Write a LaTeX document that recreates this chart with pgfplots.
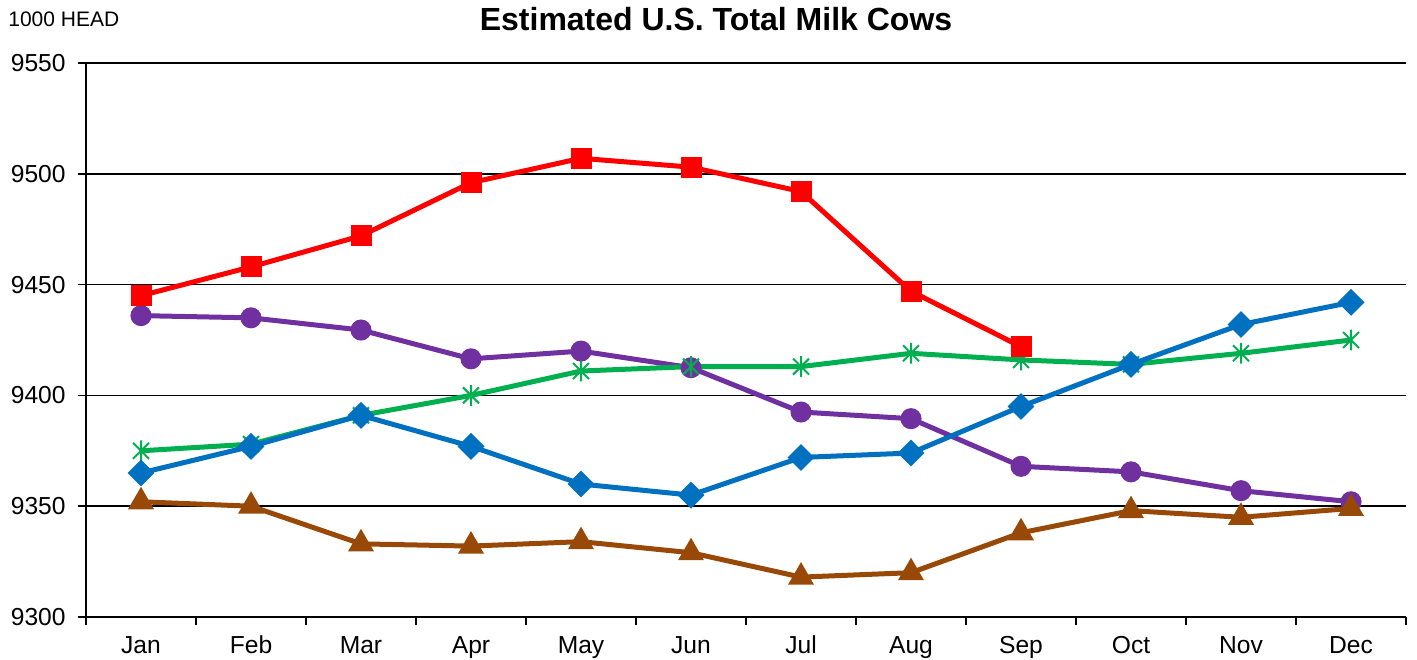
\documentclass[border=0pt]{standalone}
\usepackage{fontspec}
\setmainfont{Liberation Sans}
\usepackage{pgfplots}
\pgfplotsset{compat=1.18}

\definecolor{cRed}{HTML}{FF0000}
\definecolor{cPurple}{HTML}{7030A0}
\definecolor{cGreen}{HTML}{00B050}
\definecolor{cBlue}{HTML}{0070C0}
\definecolor{cBrown}{HTML}{984807}

% Star marker: an X crossed by a vertical bar
\pgfdeclareplotmark{xstar}{%
  \pgfpathmoveto{\pgfqpoint{-\pgfplotmarksize}{-\pgfplotmarksize}}%
  \pgfpathlineto{\pgfqpoint{\pgfplotmarksize}{\pgfplotmarksize}}%
  \pgfpathmoveto{\pgfqpoint{-\pgfplotmarksize}{\pgfplotmarksize}}%
  \pgfpathlineto{\pgfqpoint{\pgfplotmarksize}{-\pgfplotmarksize}}%
  \pgfpathmoveto{\pgfqpoint{0pt}{-1.3\pgfplotmarksize}}%
  \pgfpathlineto{\pgfqpoint{0pt}{1.3\pgfplotmarksize}}%
  \pgfusepathqstroke}

\begin{document}
\begin{tikzpicture}
\begin{axis}[
  at={(0,0)}, anchor=south west,
  scale only axis, width=660pt, height=277pt,
  xmin=-0.5, xmax=11.5, ymin=9300, ymax=9550,
  axis x line*=bottom, axis y line*=left,
  axis line style={black, line width=1pt},
  ytick={9300,9350,...,9550},
  ymajorgrids, grid style={black, line width=0.8pt},
  xtick={0,...,11},
  xticklabels={Jan,Feb,Mar,Apr,May,Jun,Jul,Aug,Sep,Oct,Nov,Dec},
  minor xtick={-0.5,0.5,...,11.5},
  major x tick style={draw=none},
  tick align=outside,
  major tick length=4pt, minor tick length=4pt,
  tick style={black, line width=0.8pt},
  ticklabel style={font=\fontsize{12.3}{14}\selectfont},
  yticklabel style={inner sep=0pt, xshift=-6pt},
  xticklabel style={inner sep=0pt, yshift=-7pt, text height=0.72em, text depth=0.21em},
  /pgf/number format/assume math mode=true,
  /pgf/number format/1000 sep={},
  clip=false,
  every axis plot/.append style={line width=2.5pt},
]
% Previous years
\addplot[cPurple, mark=*, mark size=4pt] coordinates {
  (0,9436) (1,9435) (2,9429.5) (3,9416.5) (4,9420) (5,9412.5)
  (6,9392.5) (7,9389.5) (8,9368) (9,9365.5) (10,9357) (11,9352)};
\addplot[cBrown, mark=triangle*, mark size=5pt] coordinates {
  (0,9352) (1,9350) (2,9333) (3,9332) (4,9334) (5,9329)
  (6,9318) (7,9320) (8,9338) (9,9348) (10,9345) (11,9349)};
\addplot[cGreen, mark=xstar, mark size=4pt, mark options={line width=1pt}] coordinates {
  (0,9375) (1,9378) (2,9391) (3,9400) (4,9411) (5,9413)
  (6,9413) (7,9419) (8,9416) (9,9414) (10,9419) (11,9425)};
\addplot[cBlue, mark=square*, mark size=3.5pt, mark options={rotate=45}] coordinates {
  (0,9365) (1,9377) (2,9391) (3,9377) (4,9360) (5,9355)
  (6,9372) (7,9374) (8,9395) (9,9414) (10,9432) (11,9442)};
% Current year
\addplot[cRed, mark=square*, mark size=4pt] coordinates {
  (0,9445) (1,9458) (2,9472) (3,9496) (4,9507) (5,9503)
  (6,9492) (7,9447) (8,9422)};
\end{axis}
\node[font=\bfseries\fontsize{16}{18}\selectfont] at (315pt,299pt) {Estimated U.S. Total Milk Cows};
\node[anchor=west, inner sep=0pt, font=\fontsize{10.5}{12}\selectfont] at (-39pt,299pt) {1000 HEAD};
\pgfresetboundingbox
\path[use as bounding box] (-43pt,-21pt) rectangle (665.5pt,308.5pt);
\end{tikzpicture}
\end{document}
